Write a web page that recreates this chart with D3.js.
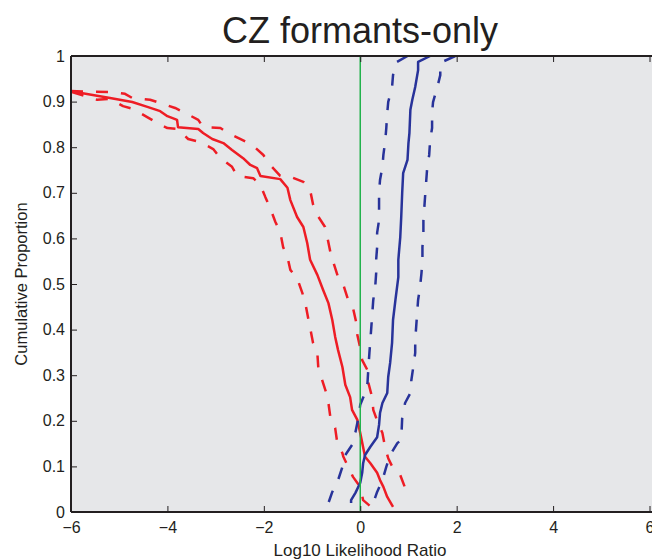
<!DOCTYPE html>
<html>
<head>
<meta charset="utf-8">
<script src="https://cdn.jsdelivr.net/npm/d3@7"></script>
<style>
  html, body { margin: 0; padding: 0; background: #ffffff; }
  svg { display: block; font-family: "Liberation Sans", Arial, sans-serif; }
</style>
</head>
<body>
<svg id="chart" width="652" height="560"></svg>
<script>
// ---- data (x = log10 LR, y = cumulative proportion) ----
const xTicks = [-6, -4, -2, 0, 2, 4, 6];
const yTicks = [0, 0.1, 0.2, 0.3, 0.4, 0.5, 0.6, 0.7, 0.8, 0.9, 1];

const redMidX = [-6.00,-5.19,-4.73,-4.40,-4.15,-4.00,-3.80,-3.78,-3.36,-3.26,-3.07,-2.84,-2.66,-2.43,-2.28,-2.14,-2.07,-1.66,-1.51,-1.45,-1.31,-1.18,-1.10,-1.04,-0.89,-0.77,-0.66,-0.58,-0.52,-0.46,-0.37,-0.31,-0.21,-0.17,-0.06,0.00,0.10,0.21,0.35,0.41,0.48,0.56,0.68];
const redMidY = [0.923,0.908,0.899,0.888,0.879,0.868,0.860,0.844,0.840,0.831,0.818,0.809,0.794,0.776,0.761,0.754,0.737,0.730,0.711,0.684,0.647,0.625,0.590,0.553,0.520,0.487,0.458,0.421,0.384,0.355,0.318,0.279,0.252,0.224,0.202,0.173,0.121,0.107,0.086,0.070,0.055,0.033,0.011];

const redHiX = [-6.00,-5.19,-4.88,-4.73,-4.36,-4.15,-3.84,-3.63,-3.36,-3.26,-2.90,-2.74,-2.45,-2.24,-2.01,-1.87,-1.66,-1.45,-1.18,-1.04,-0.98,-0.89,-0.73,-0.68,-0.62,-0.56,-0.46,-0.35,-0.25,-0.15,-0.08,-0.06,0.00,0.04,0.15,0.17,0.25,0.27,0.37,0.46,0.52,0.58,0.68,0.83,0.93,1.00];
const redHiY = [0.923,0.921,0.917,0.908,0.904,0.897,0.886,0.875,0.860,0.844,0.842,0.831,0.816,0.805,0.783,0.761,0.737,0.735,0.724,0.706,0.675,0.651,0.625,0.601,0.570,0.548,0.515,0.498,0.465,0.447,0.414,0.388,0.360,0.333,0.311,0.283,0.250,0.224,0.195,0.173,0.140,0.118,0.096,0.081,0.053,0.031];

const redLoX = [-5.98,-5.46,-5.19,-4.92,-4.71,-4.42,-4.21,-4.00,-3.78,-3.57,-3.32,-3.05,-2.90,-2.66,-2.55,-2.22,-2.07,-1.97,-1.87,-1.76,-1.66,-1.60,-1.51,-1.45,-1.31,-1.20,-1.14,-1.08,-1.04,-0.98,-0.89,-0.87,-0.79,-0.71,-0.66,-0.62,-0.52,-0.48,-0.37,-0.35,-0.25,-0.15,0.00,0.06,0.25];
const redLoY = [0.921,0.904,0.906,0.890,0.884,0.866,0.853,0.842,0.840,0.818,0.811,0.796,0.776,0.757,0.737,0.732,0.717,0.691,0.667,0.636,0.614,0.581,0.559,0.531,0.513,0.480,0.458,0.425,0.404,0.371,0.349,0.316,0.289,0.263,0.239,0.208,0.184,0.154,0.129,0.121,0.099,0.077,0.055,0.026,0.009];

const blueMidX = [1.45,1.20,1.20,1.14,1.08,1.04,1.02,1.00,0.98,0.89,0.87,0.85,0.83,0.79,0.79,0.73,0.68,0.66,0.62,0.58,0.56,0.46,0.41,0.39,0.35,0.21,0.10,0.06,0.04,0.00,-0.10,-0.19,-0.19];
const blueMidY = [1.000,0.987,0.969,0.932,0.904,0.882,0.831,0.809,0.772,0.743,0.700,0.647,0.603,0.553,0.515,0.465,0.421,0.371,0.327,0.296,0.261,0.239,0.217,0.191,0.164,0.143,0.125,0.107,0.086,0.064,0.042,0.026,0.020];

const blueLoX = [0.98,0.73,0.68,0.66,0.58,0.56,0.54,0.52,0.48,0.46,0.41,0.39,0.39,0.39,0.35,0.35,0.33,0.33,0.31,0.27,0.25,0.23,0.21,0.19,0.17,0.15,0.10,0.00,-0.04,-0.10,-0.17,-0.31,-0.37,-0.46,-0.58,-0.66];
const blueLoY = [1.000,0.985,0.958,0.932,0.899,0.875,0.842,0.816,0.783,0.757,0.728,0.700,0.669,0.640,0.612,0.581,0.553,0.524,0.493,0.465,0.436,0.406,0.377,0.349,0.318,0.283,0.261,0.235,0.206,0.175,0.147,0.125,0.099,0.070,0.044,0.020];

const blueHiX = [1.97,1.66,1.66,1.60,1.51,1.49,1.49,1.45,1.43,1.39,1.37,1.35,1.33,1.31,1.31,1.29,1.29,1.27,1.24,1.20,1.18,1.16,1.14,1.14,1.10,1.06,1.04,0.93,0.87,0.85,0.77,0.62,0.54,0.46,0.35,0.27];
const blueHiY = [1.000,0.985,0.958,0.932,0.899,0.875,0.842,0.816,0.783,0.757,0.728,0.700,0.669,0.640,0.612,0.581,0.553,0.524,0.493,0.465,0.436,0.406,0.377,0.349,0.318,0.289,0.261,0.239,0.206,0.158,0.151,0.125,0.099,0.070,0.044,0.020];

const series = [
  {xs: redLoX,  ys: redLoY,  color: "#ee1d25", dash: "12,13"},
  {xs: redHiX,  ys: redHiY,  color: "#ee1d25", dash: "12,13"},
  {xs: redMidX, ys: redMidY, color: "#ee1d25", dash: null},
  {xs: blueLoX, ys: blueLoY, color: "#28339a", dash: "12,13"},
  {xs: blueHiX, ys: blueHiY, color: "#28339a", dash: "12,13"},
  {xs: blueMidX,ys: blueMidY,color: "#28339a", dash: null}
];

// ---- layout ----
const svg = d3.select("#chart");
const L = 71, R = 649.5, T = 56, B = 512;
const x = d3.scaleLinear().domain([-6, 6]).range([L, R]);
const y = d3.scaleLinear().domain([0, 1]).range([B, T]);

svg.append("rect").attr("x", L).attr("y", T).attr("width", 652 - L).attr("height", B - T)
  .attr("fill", "#e6e7e9");

const clip = svg.append("clipPath").attr("id", "clip");
clip.append("rect").attr("x", L).attr("y", T).attr("width", R - L).attr("height", B - T);

const plot = svg.append("g").attr("clip-path", "url(#clip)");

const line = d3.line().x(d => x(d[0])).y(d => y(d[1]));

series.forEach(s => {
  const pts = s.xs.map((v, i) => [v, s.ys[i]]);
  plot.append("path").datum(pts)
    .attr("d", line)
    .attr("fill", "none")
    .attr("stroke", s.color)
    .attr("stroke-width", 2.5)
    .attr("stroke-linejoin", "round")
    .attr("stroke-dasharray", s.dash);
});

// green zero line
plot.append("line")
  .attr("x1", x(0)).attr("x2", x(0)).attr("y1", y(0)).attr("y2", y(1))
  .attr("stroke", "#22b24c").attr("stroke-width", 1.5);

// axes (ticks inward)
const axisColor = "#231f20";
const gx = svg.append("g").attr("transform", `translate(0,${B})`)
  .call(d3.axisBottom(x).tickValues(xTicks).tickSize(-6).tickPadding(10).tickFormat(d3.format("d")));
const gy = svg.append("g").attr("transform", `translate(${L},0)`)
  .call(d3.axisLeft(y).tickValues(yTicks).tickSize(-6).tickPadding(6).tickFormat(d => d === 0 || d === 1 ? d3.format("d")(d) : d3.format(".1f")(d)));
const gt = svg.append("g").attr("transform", `translate(0,${T})`)
  .call(d3.axisTop(x).tickValues(xTicks).tickSize(-6).tickFormat(""));

[gx, gy, gt].forEach(g => {
  g.select(".domain").remove();
  g.selectAll(".tick line").attr("stroke", axisColor).attr("stroke-width", 1);
  g.selectAll(".tick text").attr("fill", "#231f20").attr("font-size", 16)
    .attr("font-family", "'Liberation Sans', Arial, sans-serif");
});

// frame lines
svg.append("line").attr("x1", L).attr("x2", 652).attr("y1", B).attr("y2", B)
  .attr("stroke", axisColor).attr("stroke-width", 2);
svg.append("line").attr("x1", L).attr("x2", 652).attr("y1", T).attr("y2", T)
  .attr("stroke", axisColor).attr("stroke-width", 2);
svg.append("line").attr("x1", L).attr("x2", L).attr("y1", T).attr("y2", B)
  .attr("stroke", axisColor).attr("stroke-width", 2);

// title and labels
svg.append("text").attr("x", 360).attr("y", 43).attr("text-anchor", "middle")
  .attr("font-size", 36).attr("fill", "#231f20").text("CZ formants-only");
svg.append("text").attr("x", 360).attr("y", 556).attr("text-anchor", "middle")
  .attr("font-size", 17).attr("fill", "#231f20").text("Log10 Likelihood Ratio");
svg.append("text").attr("transform", `translate(27,${(T + B) / 2}) rotate(-90)`)
  .attr("text-anchor", "middle").attr("font-size", 16.5).attr("fill", "#231f20")
  .text("Cumulative Proportion");
</script>
</body>
</html>
